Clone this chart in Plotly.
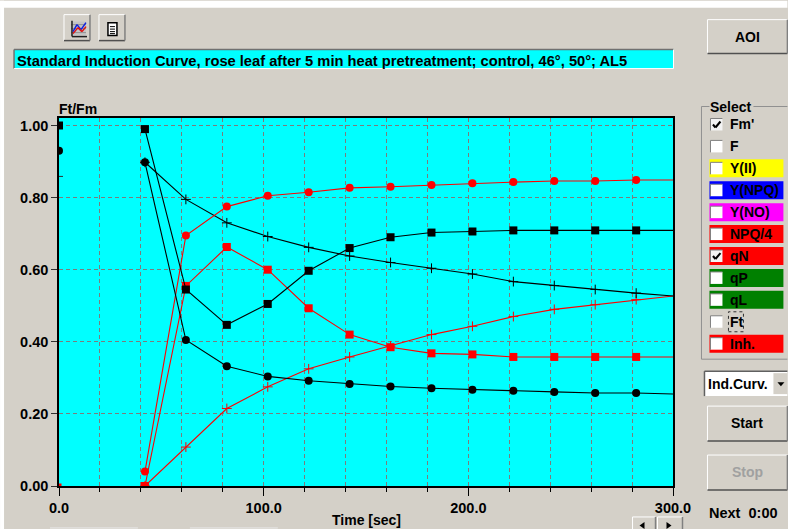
import plotly.graph_objects as go

# ---------- data ----------
time_first = [0]
time_run = [42, 62, 82, 102, 122, 142, 162, 182, 202, 222, 242, 262, 282, 300]

fm_first = [1.0]
fm_run = [.99, .545, .447, .505, .597, .66, .69, .703, .706, .709, .709, .709, .709, .709]
f_first = [.93]
f_run = [.898, .405, .332, .304, .292, .283, .276, .271, .267, .264, .261, .258, .258, .255]
yld_run = [.898, .795, .73, .692, .662, .638, .62, .604, .588, .567, .556, .545, .535, .527]
qn_first = [0.0]
qn_run = [.04, .695, .775, .805, .815, .827, .83, .835, .84, .843, .846, .846, .849, .849]
npq_run = [0.0, .555, .663, .6, .493, .42, .385, .368, .365, .358, .358, .358, .358, .358]
inh_run = [0.0, .108, .215, .275, .325, .358, .388, .42, .443, .47, .49, .503, .517, .527]

select_labels = ["Fm'", "F", "Y(II)", "Y(NPQ)", "Y(NO)", "NPQ/4", "qN", "qP", "qL", "Ft", "Inh."]
select_bands = [None, None, "#FFFF00", "#0000FF", "#FF00FF", "#FF0000", "#FF0000", "#008000", "#008000", None, "#FF0000"]
select_checked = ["Fm'", "qN"]
title_text = "Standard Induction Curve, rose leaf after 5 min heat pretreatment; control, 46°, 50°; AL5"

# ---------- page geometry ----------
W, H = 788, 529
L, R, T, B = 59, 673.5, 117.5, 486
FACE = "#D4D0C8"
FONT = "Liberation Sans"
TXT = "#000000"

def px(v):
    return (v - L) / (R - L)

def py(v):
    return (B - v) / (B - T)

shapes, notes = [], []

def rect(x0, y0, x1, y1, fill, line=None, lw=1):
    shapes.append(dict(type="rect", xref="paper", yref="paper", x0=px(x0), x1=px(x1), y0=py(y1), y1=py(y0),
                       fillcolor=fill, line=dict(color=line or fill, width=lw if line else 0), layer="below"))

def seg(x0, y0, x1, y1, color, lw=1, layer="below"):
    shapes.append(dict(type="line", xref="paper", yref="paper", x0=px(x0), x1=px(x1), y0=py(y0), y1=py(y1),
                       line=dict(color=color, width=lw), layer=layer))

def tri(pts, color="#000000"):
    path = "M " + " L ".join(f"{px(a)} {py(b)}" for a, b in pts) + " Z"
    shapes.append(dict(type="path", xref="paper", yref="paper", layer="below", fillcolor=color,
                       line=dict(width=0), path=path))

def text(x, y, s, size=14, bold=True, color=TXT, anchor="left"):
    notes.append(dict(xref="paper", yref="paper", x=px(x), y=py(y), text=f"<b>{s}</b>" if bold else s,
                      showarrow=False, xanchor=anchor, yanchor="middle", borderpad=0, borderwidth=0,
                      font=dict(family=FONT, size=size, color=color)))

def button(x0, y0, x1, y1):
    rect(x0, y0, x1, y1, FACE)
    seg(x0, y0, x1, y0, "#FFFFFF"); seg(x0, y0, x0, y1, "#FFFFFF")
    seg(x0, y1, x1, y1, "#505050", 1.5); seg(x1, y0, x1, y1, "#808080", 1.5)

# white strips of the screenshot edges
rect(0, 0, W, 7, "#FFFFFF")
rect(0, 0, 4, H, "#FFFFFF")

# toolbar buttons
button(64, 14, 90, 40)
button(99, 14, 125, 40)
rect(71, 21, 86, 35, "#C4C4C4")
for yy in (24, 28, 32):
    seg(71, yy, 86, yy, "#909090")
seg(72, 36, 87, 36, "#202020", 1.5); seg(72, 20, 72, 36, "#202020", 1.5)
seg(73, 31, 77, 24, "#1020E0", 1.5); seg(77, 24, 81, 29, "#1020E0", 1.5); seg(81, 29, 86, 22, "#1020E0", 1.5)
seg(73, 33, 78, 27, "#E01010", 1.5); seg(78, 27, 82, 31, "#E01010", 1.5); seg(82, 31, 86, 26, "#E01010", 1.5)
rect(108, 22, 117, 35, "#FFFFFF", "#000000", 1.5)
for yy in (26, 28.5, 31, 33):
    seg(110, yy, 115, yy, "#000000")

# title bar
rect(14, 49, 674, 68, "#00FFFF")
seg(14, 49, 674, 49, "#707070", 1.5); seg(14, 49, 14, 68, "#707070", 1.5)
seg(14, 68, 674, 68, "#FFFFFF"); seg(674, 49, 674, 68, "#FFFFFF")
text(17, 60, title_text, size=14.7)

# axis captions
text(59, 108, "Ft/Fm", size=14)
text(367, 520, "Time [sec]", size=14, anchor="center")

# right column
button(708, 19, 788, 53)
text(748, 36, "AOI", size=14, anchor="center")

# select group
seg(702, 106, 710, 106, "#909090"); seg(754, 106, 788, 106, "#909090")
seg(702, 106, 702, 359, "#909090"); seg(702, 359, 788, 359, "#909090")
text(711, 106, "Select", size=14)
row0, step = 124, 21.95
for i, (lab, band) in enumerate(zip(select_labels, select_bands)):
    cy = row0 + i * step
    if band:
        rect(710, cy - 9, 784, cy + 9, band)
    rect(711, cy - 6, 723, cy + 6, "#FFFFFF" if lab not in select_checked else "#F4F4F4")
    seg(711, cy - 6, 723, cy - 6, "#808080"); seg(711, cy - 6, 711, cy + 6, "#808080")
    if lab in select_checked:
        seg(713.5, cy, 716, cy + 3, "#000000", 2); seg(716, cy + 3, 721, cy - 3, "#000000", 2)
    text(731, cy, lab, size=14)
    if lab == "Ft":
        shapes.append(dict(type="rect", xref="paper", yref="paper", layer="below",
                           x0=px(729), x1=px(744), y0=py(cy + 10), y1=py(cy - 10),
                           fillcolor="rgba(0,0,0,0)", line=dict(color="#303030", width=1, dash="dot")))

# combo box
rect(705, 371, 788, 396, "#FFFFFF")
seg(705, 371, 788, 371, "#606060", 1.5); seg(705, 371, 705, 396, "#606060", 1.5)
rect(774, 373, 788, 394, FACE)
tri([(778, 382), (785, 382), (781.5, 386)])
text(709, 384, "Ind.Curv.", size=14)

button(708, 406, 788, 441)
text(748, 423, "Start", size=14, anchor="center")
button(708, 455, 788, 490)
text(748, 472, "Stop", size=14, anchor="center", color="#A0A0A0")
text(710, 513, "Next  0:00", size=14.5)

# scroll buttons and faint tabs
button(633, 517, 656, 530)
button(658, 517, 683, 530)
tri([(645, 522), (645, 529), (640, 525.5)])
tri([(667, 522), (667, 529), (672, 525.5)])
seg(50, 528, 138, 528, "#E8E8E8"); seg(190, 528, 278, 528, "#E8E8E8")

# short inner tick on the left axis
seg(59, 176, 63, 176, "#303030", 1, layer="above")

fig = go.Figure()
BLACK, RED = "#000000", "#FF0000"
LW = 1.1

def add_start(xs, ys, color, symbol, size, name):
    fig.add_trace(go.Scatter(x=xs, y=ys, mode="markers", name=name, showlegend=False,
                             marker=dict(color=color, symbol=symbol, size=size, line=dict(width=0))))

def add_run(xs, ys, color, symbol, size, name):
    fig.add_trace(go.Scatter(x=xs, y=ys, mode="lines", name=name, showlegend=False,
                             line=dict(color=color, width=LW)))
    thin = symbol == "cross-thin"
    # the last sample (300 s) only closes the line; it carries no marker
    fig.add_trace(go.Scatter(x=xs[:-1], y=ys[:-1], mode="markers", name=name, showlegend=False,
                             marker=dict(color=color, symbol=symbol, size=size,
                                         line=dict(color=color, width=1 if thin else 0))))

add_start(time_first, fm_first, BLACK, "square", 8, "Fm' start")
add_start(time_first, f_first, BLACK, "circle", 8, "F start")
add_start(time_first, qn_first, RED, "square", 5, "qN start")
add_run(time_run, inh_run, RED, "cross-thin", 7, "Inh.")
add_run(time_run, yld_run, BLACK, "cross-thin", 7, "Yield")
add_run(time_run, npq_run, RED, "square", 8, "NPQ")
add_run(time_run, qn_run, RED, "circle", 8, "qN")
add_run(time_run, f_run, BLACK, "circle", 8, "F")
add_run(time_run, fm_run, BLACK, "square", 8, "Fm'")

GRID = "#7C7C7C"
DASH = "4px,3px"
fig.update_layout(
    width=W, height=H, margin=dict(l=L, r=W - R, t=T, b=H - B, pad=0),
    autosize=False, paper_bgcolor=FACE, plot_bgcolor="#00FFFF",
    shapes=shapes, annotations=notes, showlegend=False,
    font=dict(family=FONT, size=14, color=TXT),
    xaxis=dict(range=[0, 300], tick0=0, dtick=100, tickformat=".1f",
               ticks="outside", ticklen=8, tickcolor="#000000", tickwidth=1,
               showgrid=True, gridcolor=GRID, griddash=DASH, gridwidth=1,
               minor=dict(dtick=20, tick0=0, ticks="outside", ticklen=4, tickcolor="#000000", tickwidth=1,
                          showgrid=True, gridcolor=GRID, griddash=DASH, gridwidth=1),
               showline=True, linecolor="#000000", linewidth=1.5, zeroline=False, mirror=True,
               tickfont=dict(family=FONT, size=14.5, weight="bold")),
    yaxis=dict(range=[0, 1.0208], tick0=0, dtick=.2, tickformat=".2f",
               ticks="outside", ticklen=6, tickcolor="#303030", tickwidth=1,
               showgrid=True, gridcolor=GRID, griddash=DASH, gridwidth=1,
               showline=True, linecolor="#000000", linewidth=1.5, zeroline=False, mirror=True,
               tickfont=dict(family=FONT, size=14.5, weight="bold")),
)
fig.write_html("out.html", config={"displayModeBar": False},
               post_script="document.documentElement.style.margin='0';document.body.style.margin='0';document.body.style.overflow='hidden';")
